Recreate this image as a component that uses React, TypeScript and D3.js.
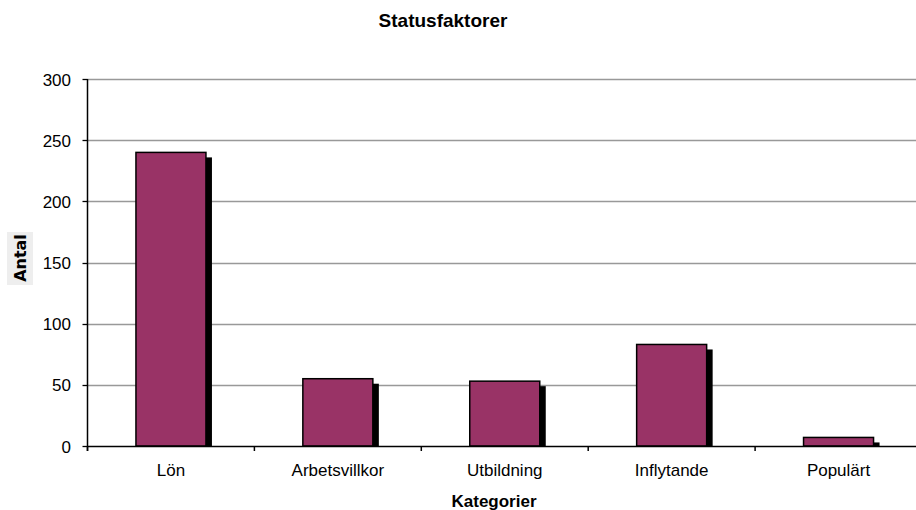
import React from "react";
import * as d3 from "d3";

const categories = ["Lön", "Arbetsvillkor", "Utbildning", "Inflytande", "Populärt"];
const values = [240, 55, 53, 83, 7];
const yTicks = [0, 50, 100, 150, 200, 250, 300];

const W = 916;
const H = 510;
const left = 87.5;
const right = 922;
const top = 79;
const bottom = 446;
const font = "'Liberation Sans', Arial, sans-serif";

export default function App() {
  const x = d3.scaleBand<string>().domain(categories).range([left, right]).paddingInner(0).paddingOuter(0);
  const y = d3.scaleLinear().domain([0, 300]).range([bottom, top]);
  const bw = 70;
  const bounds = d3.range(categories.length + 1).map((i) => left + i * x.bandwidth());
  return (
    <svg width={W} height={H} style={{ position: "absolute", left: 0, top: 0, background: "#fff" }} fontFamily={font}>
      <rect x={0} y={0} width={W} height={H} fill="#fff" />
      <text x={443} y={27} textAnchor="middle" fontSize={19} fontWeight="bold">Statusfaktorer</text>
      {yTicks.filter((t) => t > 0).map((t) => (
        <line key={t} x1={left} x2={W} y1={Math.round(y(t)) + 0.5} y2={Math.round(y(t)) + 0.5} stroke="#999" strokeWidth={1.3} />
      ))}
      {categories.map((c, i) => {
        const cx = x(c)! + x.bandwidth() / 2;
        const x0 = cx - bw / 2;
        const yt = y(values[i]);
        return (
          <g key={c}>
            <rect x={x0 + 6} y={yt + 5} width={bw} height={Math.max(0, bottom - yt - 5)} fill="#000" />
            <rect x={x0} y={yt} width={bw} height={bottom - yt} fill="#993366" stroke="#000" strokeWidth={1.5} />
          </g>
        );
      })}
      <line x1={left} x2={W} y1={bottom + 0.5} y2={bottom + 0.5} stroke="#000" strokeWidth={1.3} />
      <line x1={left} x2={left} y1={top} y2={bottom + 5} stroke="#000" strokeWidth={1.5} />
      {yTicks.map((t) => (
        <g key={t}>
          <line x1={left - 5} x2={left} y1={Math.round(y(t)) + 0.5} y2={Math.round(y(t)) + 0.5} stroke="#000" strokeWidth={1.3} />
          <text x={left - 16.5} y={y(t) + 6.5} textAnchor="end" fontSize={17}>{t}</text>
        </g>
      ))}
      {bounds.map((b, i) => (
        <line key={i} x1={b} x2={b} y1={bottom} y2={bottom + 5} stroke="#000" strokeWidth={1.5} />
      ))}
      {categories.map((c) => (
        <text key={c} x={x(c)! + x.bandwidth() / 2} y={476} textAnchor="middle" fontSize={17}>{c}</text>
      ))}
      <text x={494} y={507} textAnchor="middle" fontSize={17} fontWeight="bold">Kategorier</text>
      <rect x={7} y={232} width={26} height={53} fill="#eeeeee" />
      <text transform={`translate(26,258) rotate(-90)`} textAnchor="middle" fontSize={16} fontWeight="bold" fontFamily="'DejaVu Sans', sans-serif">Antal</text>
    </svg>
  );
}
